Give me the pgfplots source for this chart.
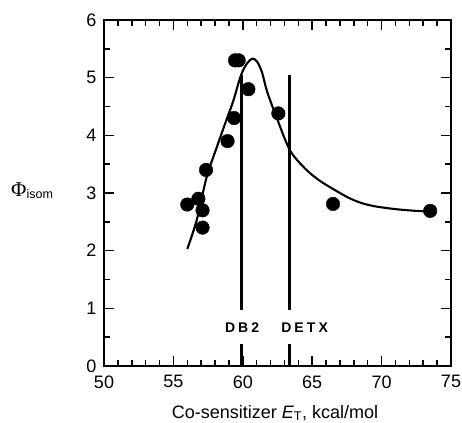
\documentclass[border=0pt]{standalone}
\usepackage{pgfplots}
\pgfplotsset{compat=1.18}
\usepackage{fontspec}
\setmainfont{Liberation Sans}
\newfontfamily\phifont{Liberation Serif}
\newfontfamily\spacedfont[LetterSpace=22]{Liberation Sans}

\begin{document}
\begin{tikzpicture}
\useasboundingbox (0,0) rectangle (462pt,422pt);
\begin{axis}[
  at={(104pt,56pt)}, anchor=south west,
  scale only axis, width=347pt, height=346pt,
  xmin=50, xmax=75, ymin=0, ymax=6,
  xtick={50,55,...,75}, ytick={0,1,...,6},
  minor x tick num=4, minor y tick num=1,
  tick align=inside,
  major tick length=10pt, minor tick length=6pt,
  every tick/.style={black, line width=1.5pt},
  axis line style={line width=1.8pt},
  xticklabel pos=bottom, yticklabel pos=left,
  ticks=both,
  tick label style={font=\fontsize{18}{20}\selectfont},
  /pgf/number format/assume math mode=true,
  xticklabel style={yshift=-6pt},
  yticklabel style={xshift=-4pt},
  clip=false,
  unbounded coords=jump,
]
% fitted curve
\addplot[black, line width=2.1pt, smooth, tension=0.5, no markers] coordinates {
  (56.0,2.03) (56.68,2.53) (57.4,3.28) (58.12,3.79) (58.84,4.28)
  (59.32,4.60) (59.85,5.03) (60.28,5.24) (60.7,5.33) (61.05,5.27)
  (61.4,5.08) (61.75,4.76) (62.45,4.30) (63.4,3.74) (64.5,3.42)
  (65.5,3.22) (66.5,3.07) (67.6,2.92) (68.5,2.83) (69.5,2.77)
  (71.0,2.72) (72.5,2.69) (73.5,2.68)
};
% measured quantum yields
\addplot[only marks, mark=*, mark size=6.8pt, black] coordinates {
  (56.0,2.8) (56.8,2.9) (57.1,2.7) (57.1,2.4) (57.35,3.4)
  (58.9,3.9) (59.37,4.3) (59.44,5.3) (59.7,5.3) (60.4,4.8)
  (62.56,4.38) (66.5,2.81) (73.5,2.69)
};
% triplet energies of the sensitizers
\addplot[black, line width=3pt] coordinates {
  (59.88,0) (59.88,0.39) (59.88,nan) (59.88,0.97) (59.88,5.04)
};
\addplot[black, line width=3pt] coordinates {
  (63.33,0) (63.33,0.39) (63.33,nan) (63.33,0.97) (63.33,5.04)
};
\node[font=\fontsize{14}{16}\spacedfont\bfseries] at (axis cs:59.95,0.66) {DB2};
\node[font=\fontsize{14}{16}\spacedfont\bfseries] at (axis cs:64.45,0.66) {DETX};
\end{axis}
\node[anchor=base] at (275pt,4pt) {\fontsize{18}{20}\selectfont Co-sensitizer \textit{E}\textsubscript{T}, kcal/mol};
\node[anchor=base west, inner sep=0pt] at (11pt,225pt) {\fontsize{21}{23}\phifont Φ\fontsize{12.5}{14}\rmfamily\raisebox{-1.5pt}{isom}};
\end{tikzpicture}
\end{document}
